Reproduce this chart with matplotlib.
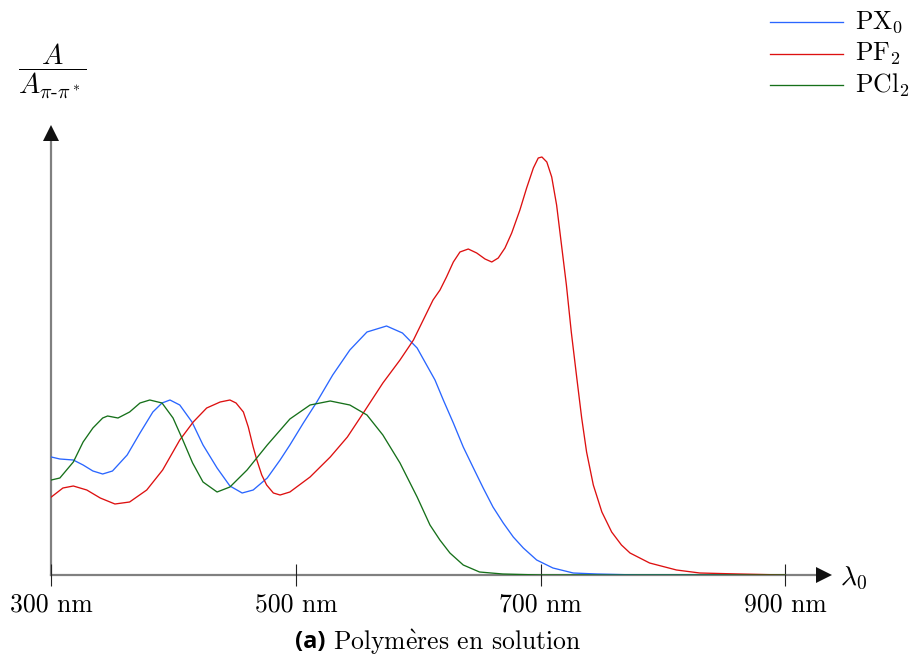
import matplotlib
matplotlib.use('Agg')
import matplotlib.pyplot as plt
from matplotlib.lines import Line2D

# wavelength (nm) / relative absorbance
px0_nm = [300, 307, 318, 326, 334, 342, 350, 362, 372.5, 383, 390.5, 397, 405, 415, 424,
          435.5, 446, 456, 465, 476.5, 487, 495, 506, 517, 530, 544, 558, 574, 587, 599,
          613.6, 620.4, 628.6, 636.7, 645, 653, 661, 669.4, 677.6, 685.8, 696.7, 710, 726.6,
          745.8, 780, 900]
px0_a = [1.18, 1.16, 1.15, 1.10, 1.04, 1.01, 1.04, 1.20, 1.42, 1.63, 1.72, 1.75, 1.70, 1.53, 1.30,
         1.07, 0.89, 0.82, 0.85, 0.97, 1.15, 1.30, 1.52, 1.73, 2.00, 2.25, 2.43, 2.49, 2.42, 2.27,
         1.95, 1.75, 1.52, 1.28, 1.07, 0.87, 0.68, 0.52, 0.38, 0.27, 0.15, 0.07, 0.02,
         0.01, 0.0, 0.0]

pf2_nm = [300, 309.5, 318, 329, 340, 352, 364, 378, 391, 405, 416, 427, 438, 446, 451, 457,
          461, 465, 468, 472, 476, 481.5, 487, 495, 511.5, 528, 542, 555, 571, 585, 596, 612,
          617.7, 623, 628.6, 634, 640.8, 647.7, 654.5, 660, 665.3, 670.8, 676.3, 683, 688.5,
          694, 698, 701, 705, 709, 713, 717, 721, 725, 729.5, 733.5, 737.5, 743, 750, 758,
          766, 773, 789, 811, 830, 862, 900]
pf2_a = [0.78, 0.87, 0.89, 0.85, 0.77, 0.71, 0.73, 0.85, 1.05, 1.35, 1.53, 1.67, 1.73, 1.75, 1.72, 1.63,
         1.48, 1.28, 1.15, 1.00, 0.90, 0.82, 0.80, 0.83, 0.98, 1.18, 1.38, 1.62, 1.92, 2.15, 2.35, 2.75,
         2.85, 2.98, 3.13, 3.23, 3.26, 3.22, 3.16, 3.13, 3.17, 3.27, 3.42, 3.65, 3.87,
         4.07, 4.17, 4.18, 4.13, 3.98, 3.70, 3.30, 2.90, 2.43, 1.97, 1.57, 1.23, 0.90, 0.63, 0.43,
         0.30, 0.22, 0.12, 0.05, 0.02, 0.01, 0.0]

pcl2_nm = [300, 307, 318, 326, 334, 342, 346, 354.5, 364, 372.5, 380.5, 390.5, 399.5, 407.5,
           415.5, 424, 435.5, 446, 460, 476.5, 495, 511.5, 528, 544, 558, 571, 585, 599, 609.5,
           617.6, 625.8, 636.7, 650, 669, 700, 900]
pcl2_a = [0.95, 0.97, 1.13, 1.33, 1.47, 1.57, 1.59, 1.57, 1.63, 1.72, 1.75, 1.72, 1.57, 1.35,
          1.12, 0.93, 0.83, 0.88, 1.05, 1.30, 1.56, 1.70, 1.74, 1.70, 1.60, 1.40, 1.12, 0.78, 0.50,
          0.35, 0.22, 0.10, 0.03, 0.01, 0.0, 0.0]

labels = [r'PX$_0$', r'PF$_2$', r'PCl$_2$']
colors = ['#2a66ff', '#dd1010', '#16701a']
xticks = [300, 500, 700, 900]
xticklabels = ['300 nm', '500 nm', '700 nm', '900 nm']

plt.rcParams['mathtext.fontset'] = 'cm'
plt.rcParams['font.family'] = 'cmr10'

W, H = 913, 659
fig = plt.figure(figsize=(W / 100, H / 100), dpi=100)
x0, x1 = 51.3, 830
y0, y1 = 575, 125
ax = fig.add_axes([x0 / W, 1 - y0 / H, (x1 - x0) / W, (y0 - y1) / H])
xmax = 300 + (x1 - x0) / 1.2235
ax.set_xlim(300, xmax)
ax.set_ylim(0, 4.5)
for s in ax.spines.values():
    s.set_visible(False)

series = [(px0_nm, px0_a), (pf2_nm, pf2_a), (pcl2_nm, pcl2_a)]
for (xs, ys), c in zip(series, colors):
    ax.plot(xs, ys, color=c, lw=0.95, solid_joinstyle='round')

# axes with arrow heads
ax.plot([300, xmax - 6], [0, 0], color='#808080', lw=1.6, clip_on=False, zorder=1)
ax.plot([300, 300], [0, 4.5 - 0.06], color='#808080', lw=1.6, clip_on=False, zorder=1)
ax.plot([xmax - 5], [0], marker='>', ms=11, color='#111111', clip_on=False, mew=0)
ax.plot([300], [4.5 - 0.08], marker='^', ms=11, color='#111111', clip_on=False, mew=0)

ax.set_xticks(xticks)
ax.set_xticklabels(xticklabels, fontsize=18.5)
ax.tick_params(axis='x', direction='inout', length=16, width=0.8, color='#222222', pad=5)
ax.set_yticks([])

fig.text(52 / W, 1 - 72 / H, r'$\dfrac{A}{A_{\pi\text{-}\pi^*}}$', fontsize=20.5,
         ha='center', va='center')
fig.text(840 / W, 1 - 578 / H, r'$\lambda_0$', fontsize=20, ha='left', va='center')

# legend
for i, (lab, c) in enumerate(zip(labels, colors)):
    yy = 1 - (22 + i * 31.5) / H
    fig.add_artist(Line2D([770 / W, 843 / W], [yy, yy], color=c, lw=0.95))
    fig.text(855 / W, yy, lab, fontsize=18.5, ha='left', va='center')

# caption
fig.text(326 / W, 1 - 642 / H, '(a)', fontsize=17, family='Open Sans', weight='bold',
         ha='right', va='center')
fig.text(333 / W, 1 - 642 / H, r'Polym$\grave{\mathrm{e}}$res en solution', fontsize=18.5,
         ha='left', va='center')

fig.savefig('out.png', dpi=100)
